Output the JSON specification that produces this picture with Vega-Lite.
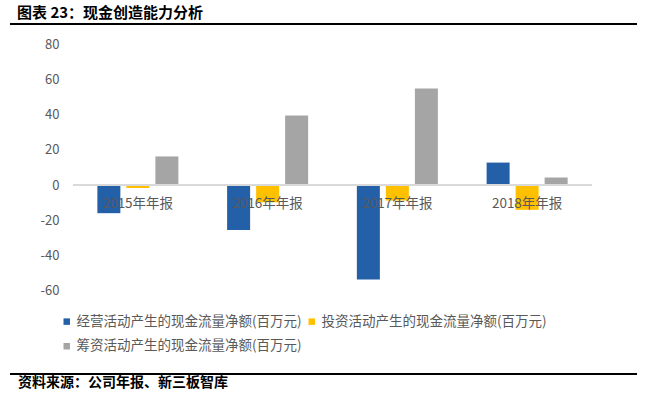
{
  "$schema": "https://vega.github.io/schema/vega-lite/v6.json",
  "background": "white",
  "padding": {"left": 8, "top": 6, "right": 5, "bottom": 2},
  "spacing": 8.5,
  "config": {"view": {"stroke": null}, "font": "Noto Sans CJK SC", "axisY": {"labelOverlap": false}},
  "resolve": {"scale": {"color": "independent"}, "legend": {"color": "independent"}},
  "datasets": {
    "cash": [
      {"year": "2015年年报", "series": "经营活动产生的现金流量净额(百万元)", "value": -16},
      {"year": "2015年年报", "series": "投资活动产生的现金流量净额(百万元)", "value": -1.6},
      {"year": "2015年年报", "series": "筹资活动产生的现金流量净额(百万元)", "value": 16.3},
      {"year": "2016年年报", "series": "经营活动产生的现金流量净额(百万元)", "value": -25.5},
      {"year": "2016年年报", "series": "投资活动产生的现金流量净额(百万元)", "value": -9.8},
      {"year": "2016年年报", "series": "筹资活动产生的现金流量净额(百万元)", "value": 39.6},
      {"year": "2017年年报", "series": "经营活动产生的现金流量净额(百万元)", "value": -53.8},
      {"year": "2017年年报", "series": "投资活动产生的现金流量净额(百万元)", "value": -8.8},
      {"year": "2017年年报", "series": "筹资活动产生的现金流量净额(百万元)", "value": 55},
      {"year": "2018年年报", "series": "经营活动产生的现金流量净额(百万元)", "value": 12.8},
      {"year": "2018年年报", "series": "投资活动产生的现金流量净额(百万元)", "value": -14.1},
      {"year": "2018年年报", "series": "筹资活动产生的现金流量净额(百万元)", "value": 4.3}
    ],
    "cats": [
      {"year": "2015年年报"},
      {"year": "2016年年报"},
      {"year": "2017年年报"},
      {"year": "2018年年报"}
    ],
    "line": [{"v": 0}]
  },
  "vconcat": [
    {
      "width": 519,
      "height": 6,
      "title": {"text": "图表 23：现金创造能力分析", "anchor": "start", "dx": 8, "fontSize": 15, "fontWeight": "bold", "color": "#000000", "offset": 2, "font": "Noto Sans CJK SC"},
      "data": {"name": "line"},
      "mark": {"type": "rule", "color": "#000000", "strokeWidth": 2},
      "encoding": {
        "x": {"datum": -0.1214, "scale": {"domain": [0, 1], "nice": false, "zero": false}, "axis": null},
        "x2": {"datum": 1.0867},
        "y": {"datum": 1, "scale": {"domain": [0, 1], "nice": false}, "axis": null}
      }
    },
    {
      "width": 519,
      "height": 246,
      "layer": [
        {
          "data": {"name": "cash"},
          "mark": {"type": "bar"},
          "encoding": {
            "x": {"field": "year", "type": "nominal", "sort": null, "scale": {"paddingInner": 0, "paddingOuter": 0}, "axis": null},
            "xOffset": {"field": "series", "type": "nominal", "sort": null, "scale": {"paddingInner": 0.207, "paddingOuter": 0.84}},
            "y": {
              "field": "value", "type": "quantitative",
              "scale": {"domain": [-60, 80], "nice": false},
              "axis": {"values": [-60, -40, -20, 0, 20, 40, 60, 80], "domain": false, "ticks": false, "grid": false, "labelPadding": 14, "labelFontSize": 13, "labelColor": "#595959", "title": null, "minExtent": 63, "labelOverlap": false, "labelExpr": "'' + datum.value"}
            },
            "color": {
              "field": "series", "type": "nominal", "sort": null,
              "scale": {"domain": ["经营活动产生的现金流量净额(百万元)", "投资活动产生的现金流量净额(百万元)", "筹资活动产生的现金流量净额(百万元)"], "range": ["#2360A8", "#FFC000", "#A5A5A5"]},
              "legend": {"title": null, "orient": "none", "legendX": -13, "legendY": 270, "direction": "horizontal", "columns": 2, "symbolType": "square", "symbolSize": 42, "symbolStrokeWidth": 0, "labelFontSize": 13.5, "labelColor": "#595959", "columnPadding": 3, "rowPadding": 10, "labelOffset": 3, "labelLimit": 400}
            }
          }
        },
        {
          "data": {"name": "line"},
          "mark": {"type": "rule", "color": "#D9D9D9", "strokeWidth": 2},
          "encoding": {"y": {"datum": 0, "type": "quantitative",
              "axis": {"values": [-60, -40, -20, 0, 20, 40, 60, 80], "domain": false, "ticks": false, "grid": false, "labelPadding": 14, "labelFontSize": 13, "labelColor": "#595959", "title": null, "minExtent": 63, "labelOverlap": false, "labelExpr": "'' + datum.value"}}}
        },
        {
          "data": {"name": "cats"},
          "mark": {"type": "text", "dy": 19, "fontSize": 13.5, "color": "#595959"},
          "encoding": {
            "x": {"field": "year", "type": "nominal", "sort": null},
            "y": {"datum": 0, "type": "quantitative",
              "axis": {"values": [-60, -40, -20, 0, 20, 40, 60, 80], "domain": false, "ticks": false, "grid": false, "labelPadding": 14, "labelFontSize": 13, "labelColor": "#595959", "title": null, "minExtent": 63, "labelOverlap": false, "labelExpr": "'' + datum.value"}},
            "text": {"field": "year"}
          }
        }
      ]
    },
    {
      "width": 519,
      "height": 12,
      "title": {"text": "资料来源：公司年报、新三板智库", "orient": "bottom", "anchor": "start", "dx": 9, "fontSize": 14, "fontWeight": "bold", "color": "#000000", "offset": 1, "font": "Noto Sans CJK SC"},
      "data": {"name": "line"},
      "mark": {"type": "rule", "color": "#000000", "strokeWidth": 2},
      "encoding": {
        "x": {"datum": -0.1214, "scale": {"domain": [0, 1], "nice": false, "zero": false}, "axis": null},
        "x2": {"datum": 1.0867},
        "y": {"datum": 0, "scale": {"domain": [0, 1], "nice": false}, "axis": null}
      }
    }
  ]
}
